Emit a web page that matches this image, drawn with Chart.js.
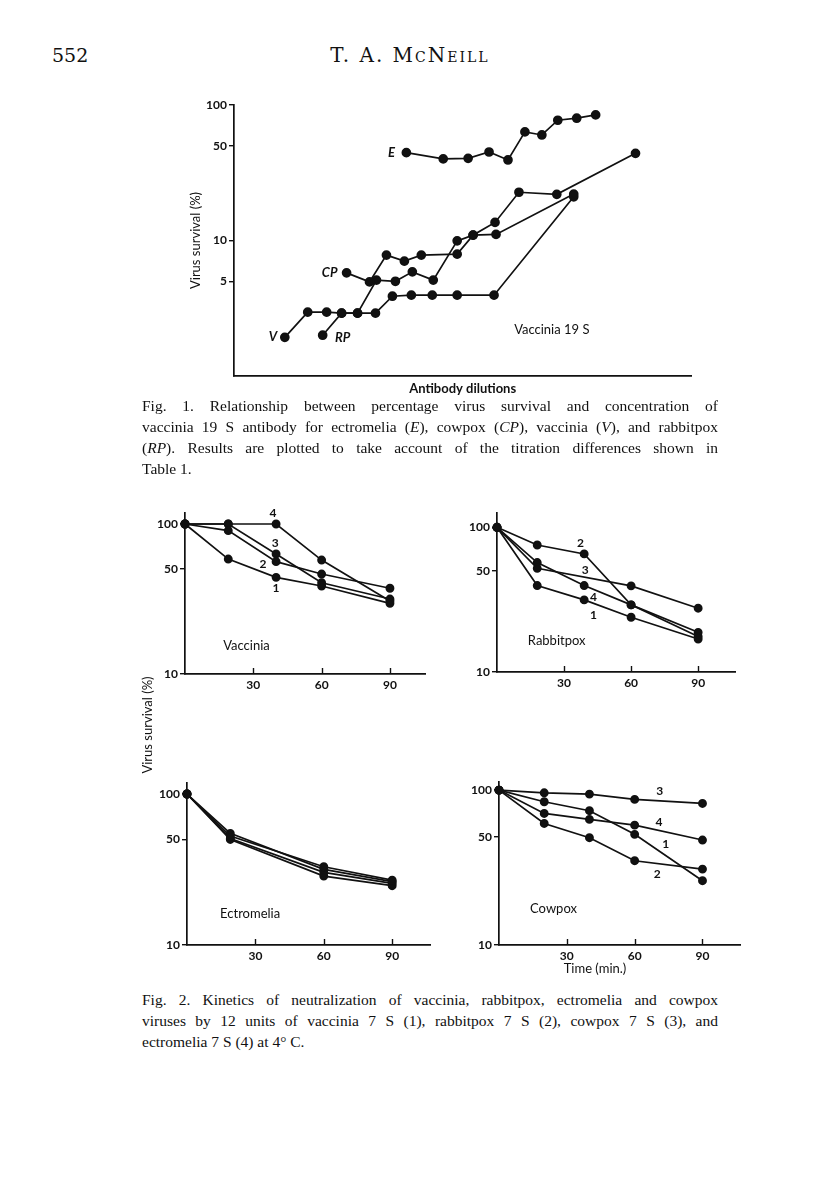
<!DOCTYPE html>
<html>
<head>
<meta charset="utf-8">
<script src="https://cdn.jsdelivr.net/npm/chart.js@4.4.1/dist/chart.umd.min.js"></script>
<style>
  body { margin: 0; background: #fff; }
  #page { position: relative; width: 816px; height: 1191px; background: #fff; color: #111; font-family: "Liberation Serif", serif; overflow: hidden; }
  #page canvas { position: absolute; }
  .head { position: absolute; top: 43px; font-family: "DejaVu Serif", serif; font-size: 19px; line-height: 24px; }
  .cap { position: absolute; left: 142px; width: 576px; font-size: 15.5px; line-height: 21px; }
  .cap div { text-align: justify; text-align-last: justify; }
  .cap div.last { text-align-last: left; }
  .sans { position: absolute; font-family: Lato, sans-serif; font-size: 13px; line-height: 16px; white-space: nowrap; }
</style>
</head>
<body>
<div id="page">
  <div class="head" style="left:52px">552</div>
  <div class="head" style="left:290px; width:240px; text-align:center; font-size:20px; font-variant: small-caps; letter-spacing: 2px">T. A. McNeill</div>

  <canvas id="fig1"></canvas>

  <div class="cap" style="top:395px">
    <div>Fig. 1. Relationship between percentage virus survival and concentration of</div>
    <div>vaccinia 19 S antibody for ectromelia (<i>E</i>), cowpox (<i>CP</i>), vaccinia (<i>V</i>), and rabbitpox</div>
    <div>(<i>RP</i>). Results are plotted to take account of the titration differences shown in</div>
    <div class="last">Table 1.</div>
  </div>

  <canvas id="vac"></canvas>
  <canvas id="rab"></canvas>
  <canvas id="ect"></canvas>
  <canvas id="cow"></canvas>

  <div class="sans" style="left:87px; top:717px; width:120px; text-align:center; transform: rotate(-90deg)">Virus survival (%)</div>
  <div class="sans" style="left:545px; top:960px; width:100px; text-align:center">Time (min.)</div>

  <div class="cap" style="top:989px">
    <div>Fig. 2. Kinetics of neutralization of vaccinia, rabbitpox, ectromelia and cowpox</div>
    <div>viruses by 12 units of vaccinia 7 S (1), rabbitpox 7 S (2), cowpox 7 S (3), and</div>
    <div class="last">ectromelia 7 S (4) at 4° C.</div>
  </div>
</div>

<script>
// ---- Fig. 1: position along the dilution axis (arbitrary units) and virus survival (%)
let fig1YTicks = [5, 10, 50, 100];
let eDil = [173, 210, 235, 256, 275, 292, 309, 325, 344, 363];
let eSurv = [44.5, 40.0, 40.4, 45.0, 39.3, 63.3, 60.1, 77.2, 79.9, 84.5];
let cpDil = [113, 136, 153, 171, 188, 224, 240, 263, 341];
let cpSurv = [5.77, 4.95, 7.8, 7.04, 7.8, 7.93, 10.96, 11.09, 22.0];
let vDil = [51, 74, 93, 108, 124, 142, 159, 178, 199, 224, 261, 341];
let vSurv = [1.93, 2.96, 2.96, 2.91, 2.91, 2.91, 3.88, 3.95, 3.95, 3.95, 3.95, 21.0];
let rpDil = [89, 108, 124, 143, 162, 179, 200, 224, 240, 262, 286, 324, 403];
let rpSurv = [2.0, 2.91, 2.91, 5.1, 5.0, 5.87, 5.1, 9.94, 10.96, 13.6, 22.7, 21.9, 44.0];

// ---- Fig. 2: time (min) and virus survival (%) for antibodies 1-4
let timeTicks = [30, 60, 90];
let survTicks = [10, 50, 100];

let vacTime = [0, 19, 40, 60, 90];
let vac1 = [100, 58.4, 44.1, 38.6, 29.6];
let vac2 = [100, 90.3, 56.1, 46.4, 37.3];
let vac3 = [100, 100, 63.1, 40.6, 31.6];
let vac4 = [100, 100, 100, 57.5, 30.7];

let rabTime = [0, 18, 39, 60, 90];
let rab1 = [100, 39.6, 31.5, 23.9, 16.9];
let rab2 = [100, 75.5, 65.5, 29.1, 17.6];
let rab3 = [100, 52.1, null, 39.4, 27.6];
let rab4 = [100, 57.1, 39.6, 29.1, 18.8];

let ectTime = [0, 19, 60, 90];
let ect1 = [100, 52.7, 33.0, 26.9];
let ect2 = [100, 54.9, 31.7, 26.3];
let ect3 = [100, 50.8, 30.3, 25.6];
let ect4 = [100, 50.0, 28.6, 24.7];

let cowTime = [0, 20, 40, 60, 90];
let cow1 = [100, 84.1, 73.6, 51.8, 26.0];
let cow2 = [100, 60.9, 49.3, 35.0, 30.9];
let cow3 = [100, 96.1, 94.2, 87.1, 82.0];
let cow4 = [100, 70.7, 64.7, 59.4, 47.6];

// text written inside the plots, anchored in data units
let notes = {
  fig1: [
    { text: "E", x: 158, y: 44.5, font: "italic bold 13px Lato" },
    { text: "CP", x: 96, y: 5.74, font: "italic bold 13px Lato" },
    { text: "V", x: 39, y: 1.94, font: "italic bold 13px Lato" },
    { text: "RP", x: 109, y: 1.92, font: "italic bold 13px Lato" },
    { text: "Vaccinia 19 S", x: 319, y: 2.21, font: "13px Lato" },
  ],
  vac: [
    { text: "4", x: 38.6, y: 117.9 }, { text: "3", x: 39.6, y: 75 },
    { text: "2", x: 34.2, y: 54.1 }, { text: "1", x: 40, y: 37.4 },
    { text: "Vaccinia", x: 27, y: 15.5, font: "13px Lato" },
  ],
  rab: [
    { text: "2", x: 37.3, y: 77.6 }, { text: "3", x: 39.5, y: 50.8 },
    { text: "4", x: 43.2, y: 32.9 }, { text: "1", x: 43.2, y: 24.8 },
    { text: "Rabbitpox", x: 26.7, y: 16.5, font: "13px Lato" },
  ],
  ect: [{ text: "Ectromelia", x: 27.7, y: 16.2, font: "13px Lato" }],
  cow: [
    { text: "3", x: 71.1, y: 98.9 }, { text: "4", x: 70.8, y: 61.9 },
    { text: "1", x: 73.7, y: 44.9 }, { text: "2", x: 70, y: 28.6 },
    { text: "Cowpox", x: 24.1, y: 17.0, font: "13px Lato" },
  ],
};

Chart.defaults.font.family = "Lato, sans-serif";
Chart.defaults.color = "#111";
Chart.defaults.animation = false;

const notesPlugin = {
  id: "notes",
  afterDatasetsDraw(chart) {
    let items = notes[chart.canvas.id] || [];
    let ctx = chart.ctx;
    ctx.save();
    ctx.fillStyle = "#111";
    ctx.textAlign = "center";
    ctx.textBaseline = "middle";
    items.forEach((n) => {
      ctx.font = n.font || "bold 12px Lato";
      ctx.fillText(n.text, chart.scales.x.getPixelForValue(n.x), chart.scales.y.getPixelForValue(n.y));
    });
    ctx.restore();
  },
};

// small tick marks pointing up into the plot from the time axis
const innerTicks = {
  id: "innerTicks",
  afterDatasetsDraw(chart) {
    let x = chart.scales.x;
    let bottom = chart.chartArea.bottom;
    let ctx = chart.ctx;
    ctx.save();
    ctx.strokeStyle = "#111";
    ctx.lineWidth = 1.4;
    x.ticks.forEach((t) => {
      let px = Math.round(x.getPixelForValue(t.value)) + 0.5;
      ctx.beginPath();
      ctx.moveTo(px, bottom);
      ctx.lineTo(px, bottom - 6);
      ctx.stroke();
    });
    ctx.restore();
  },
};

function series(xs, ys, radius) {
  return {
    data: xs.map((x, i) => ({ x: x, y: ys[i] })),
    borderColor: "#111",
    backgroundColor: "#111",
    borderWidth: 1.7,
    pointRadius: radius,
    pointHoverRadius: radius,
    spanGaps: true,
    clip: false,
  };
}

function plot(id, box, setup) {
  let canvas = document.getElementById(id);
  let w = box.yW + (box.right - box.left) + box.padRight;
  let h = box.padTop + (box.bottom - box.top) + box.xH;
  canvas.width = w;
  canvas.height = h;
  canvas.style.width = w + "px";
  canvas.style.height = h + "px";
  canvas.style.left = box.left - box.yW + "px";
  canvas.style.top = box.top - box.padTop + "px";

  return new Chart(canvas, {
    type: "line",
    data: { datasets: setup.datasets },
    plugins: [notesPlugin, innerTicks],
    options: {
      responsive: false,
      devicePixelRatio: 1,
      layout: { padding: { top: box.padTop, right: box.padRight, left: 0, bottom: 0 } },
      plugins: { legend: { display: false }, tooltip: { enabled: false } },
      scales: {
        x: {
          type: "linear",
          min: setup.xMin,
          max: setup.xMax,
          afterBuildTicks: (s) => { s.ticks = setup.xTicks.map((v) => ({ value: v })); },
          afterFit: (s) => { s.height = box.xH; },
          ticks: { display: setup.xTicks.length > 0, padding: 4, autoSkip: false, maxRotation: 0, font: { size: 12, weight: "bold" }, callback: (v) => v },
          grid: { display: false, drawTicks: false },
          border: { display: true, color: "#111", width: 1.7 },
          title: setup.xTitle
            ? { display: true, text: setup.xTitle, font: { size: 13, weight: "bold" }, padding: { top: 0, bottom: 0 } }
            : { display: false },
        },
        y: {
          type: "logarithmic",
          min: setup.yMin,
          max: setup.yMax,
          afterBuildTicks: (s) => { s.ticks = setup.yTicks.map((v) => ({ value: v })); },
          afterFit: (s) => { s.width = box.yW; },
          ticks: { padding: 2, autoSkip: false, font: { size: 12, weight: "bold" }, callback: (v) => v },
          grid: { display: true, drawOnChartArea: false, drawTicks: true, tickLength: 5, color: "#111", lineWidth: 1.4 },
          border: { display: true, color: "#111", width: 1.7 },
          title: setup.yTitle
            ? { display: true, text: setup.yTitle, font: { size: 13 }, padding: { top: 8, bottom: 0 } }
            : { display: false },
        },
      },
    },
  });
}

plot("fig1", { left: 234, top: 105, right: 693, bottom: 376, yW: 54, xH: 21, padTop: 12, padRight: 4 }, {
  xMin: 0, xMax: 459, yMin: 1, yMax: 100,
  xTicks: [], yTicks: fig1YTicks,
  xTitle: "Antibody dilutions", yTitle: "Virus survival (%)",
  datasets: [
    series(eDil, eSurv, 4),
    series(cpDil, cpSurv, 4),
    series(vDil, vSurv, 4),
    series(rpDil, rpSurv, 4),
  ],
});

plot("vac", { left: 185, top: 513, right: 427, bottom: 674, yW: 40, xH: 24, padTop: 12, padRight: 4 }, {
  xMin: 0, xMax: 105.7, yMin: 10, yMax: 118.4, xTicks: timeTicks, yTicks: survTicks,
  datasets: [vac1, vac2, vac3, vac4].map((s) => series(vacTime, s, 3.6)),
});

plot("rab", { left: 497, top: 513, right: 737, bottom: 672, yW: 40, xH: 24, padTop: 12, padRight: 4 }, {
  xMin: 0, xMax: 106.8, yMin: 10, yMax: 125.6, xTicks: timeTicks, yTicks: survTicks,
  datasets: [rab1, rab2, rab3, rab4].map((s) => series(rabTime, s, 3.6)),
});

plot("ect", { left: 187, top: 783, right: 432, bottom: 945, yW: 40, xH: 24, padTop: 12, padRight: 4 }, {
  xMin: 0, xMax: 106.9, yMin: 10, yMax: 118.3, xTicks: timeTicks, yTicks: survTicks,
  datasets: [ect1, ect2, ect3, ect4].map((s) => series(ectTime, s, 3.6)),
});

plot("cow", { left: 499, top: 782, right: 742, bottom: 945, yW: 40, xH: 24, padTop: 12, padRight: 4 }, {
  xMin: 0, xMax: 106.9, yMin: 10, yMax: 112.8, xTicks: timeTicks, yTicks: survTicks,
  datasets: [cow1, cow2, cow3, cow4].map((s) => series(cowTime, s, 3.6)),
});
</script>
</body>
</html>
